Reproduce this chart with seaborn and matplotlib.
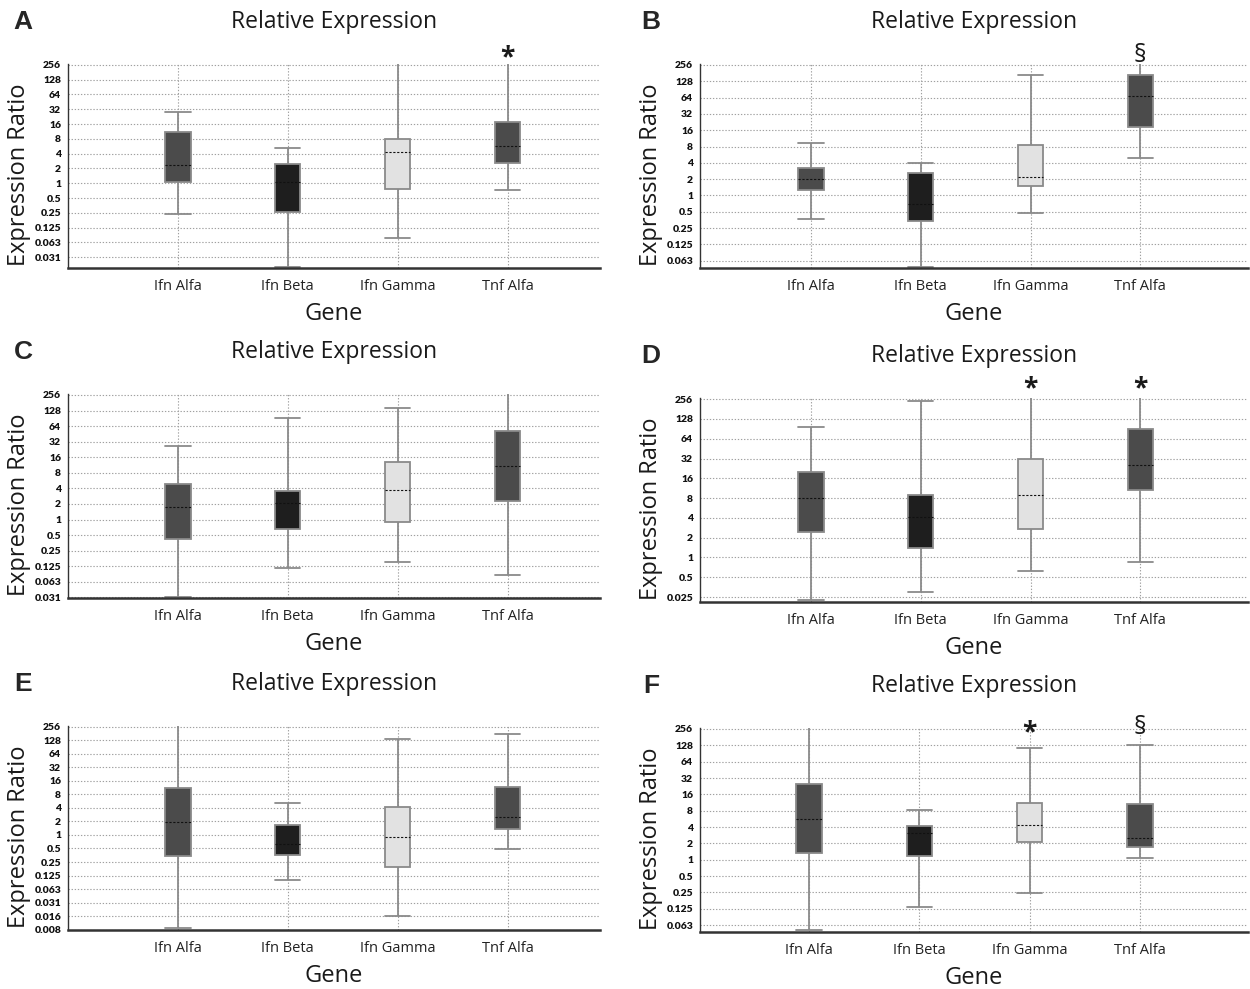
import numpy as np
import pandas as pd
import matplotlib
matplotlib.use("Agg")
import matplotlib.pyplot as plt
from matplotlib.ticker import FixedLocator, NullLocator
import seaborn as sns

# ---------------- data (log2 of expression ratio) ----------------
genes = ["Ifn Alfa", "Ifn Beta", "Ifn Gamma", "Tnf Alfa"]
panels = ["A", "B", "C", "D", "E", "F"]

# per panel: min, q1, median, q3, max for each gene (values > 8 run past the axis top)
A_min = [-2.09, -5.65, -3.71, -0.45]
A_q1 = [0.05, -1.93, -0.40, 1.36]
A_med = [1.24, 0.08, 2.13, 2.52]
A_q3 = [3.46, 1.29, 2.98, 4.12]
A_max = [4.80, 2.38, 9.0, 9.0]

B_min = [-1.44, -4.36, -1.05, 2.32]
B_q1 = [0.31, -1.55, 0.58, 4.22]
B_med = [1.00, -0.55, 1.12, 6.12]
B_q3 = [1.70, 1.35, 3.10, 7.38]
B_max = [3.21, 1.97, 7.36, 9.0]

C_min = [-4.98, -3.09, -2.73, -3.55]
C_q1 = [-1.27, -0.60, -0.17, 1.17]
C_med = [0.78, 1.04, 1.87, 3.41]
C_q3 = [2.26, 1.82, 3.67, 5.70]
C_max = [4.71, 6.50, 7.13, 9.0]

D_min = [-2.17, -1.76, -0.67, -0.24]
D_q1 = [1.27, 0.46, 1.46, 3.39]
D_med = [3.03, 2.06, 3.18, 4.68]
D_q3 = [4.32, 3.18, 4.99, 6.47]
D_max = [6.57, 7.90, 9.0, 9.0]

E_min = [-6.90, -3.34, -5.96, -1.03]
E_q1 = [-1.53, -1.48, -2.37, 0.46]
E_med = [0.96, -0.66, -0.13, 1.33]
E_q3 = [3.50, 0.74, 2.10, 3.55]
E_max = [9.0, 2.33, 7.13, 7.48]

F_min = [-4.31, -2.89, -2.02, 0.13]
F_q1 = [0.40, 0.25, 1.08, 0.79]
F_med = [2.50, 1.64, 2.15, 1.31]
F_q3 = [4.63, 2.09, 3.48, 3.43]
F_max = [9.0, 3.02, 6.84, 7.03]

# y tick labels (exponents 8 down to lowest)
A_ticks = ["256", "128", "64", "32", "16", "8", "4", "2", "1", "0.5", "0.25", "0.125", "0.063", "0.031"]
B_ticks = ["256", "128", "64", "32", "16", "8", "4", "2", "1", "0.5", "0.25", "0.125", "0.063"]
C_ticks = ["256", "128", "64", "32", "16", "8", "4", "2", "1", "0.5", "0.25", "0.125", "0.063", "0.031"]
D_ticks = ["256", "128", "64", "32", "16", "8", "4", "2", "1", "0.5", "0.025"]
E_ticks = ["256", "128", "64", "32", "16", "8", "4", "2", "1", "0.5", "0.25", "0.125", "0.063",
           "0.031", "0.016", "0.008"]
F_ticks = ["256", "128", "64", "32", "16", "8", "4", "2", "1", "0.5", "0.25", "0.125", "0.063"]

# significance marks: (gene, symbol, log2 height)
A_marks = [("Tnf Alfa", "*", 8.45)]
B_marks = [("Tnf Alfa", "§", 8.6)]
C_marks = []
D_marks = [("Ifn Gamma", "*", 8.5), ("Tnf Alfa", "*", 8.5)]
E_marks = []
F_marks = [("Ifn Gamma", "*", 7.75), ("Tnf Alfa", "§", 8.1)]

colors = ["#4b4b4b", "#1e1e1e", "#e2e2e2", "#4b4b4b"]

stats = {
    "A": (A_min, A_q1, A_med, A_q3, A_max, A_ticks, A_marks),
    "B": (B_min, B_q1, B_med, B_q3, B_max, B_ticks, B_marks),
    "C": (C_min, C_q1, C_med, C_q3, C_max, C_ticks, C_marks),
    "D": (D_min, D_q1, D_med, D_q3, D_max, D_ticks, D_marks),
    "E": (E_min, E_q1, E_med, E_q3, E_max, E_ticks, E_marks),
    "F": (F_min, F_q1, F_med, F_q3, F_max, F_ticks, F_marks),
}

# layout in figure pixels: left, right, top, bottom, xlim, ylim bottom (log2)
W, H = 1250, 989
layout = {
    "A": (68, 600, 64, 268, (-1.0, 3.84), -5.73),
    "B": (700, 1248, 64, 268, (-1.01, 3.98), -4.45),
    "C": (68, 600, 394, 598, (-1.0, 3.84), -5.04),
    "D": (700, 1248, 398, 602, (-1.01, 3.98), -2.25),
    "E": (68, 600, 726, 930, (-1.0, 3.84), -7.03),
    "F": (700, 1248, 728, 932, (-0.99, 3.98), -4.42),
}
ytop = 8.06

sns.set_style("white")
plt.rcParams["font.family"] = ["Open Sans", "DejaVu Sans"]

fig = plt.figure(figsize=(W / 100, H / 100), dpi=100)

for p in panels:
    mn, q1, md, q3, mx, ticks, marks = stats[p]
    l, r, t, b, xl, ybot = layout[p]
    ax = fig.add_axes([l / W, 1 - b / H, (r - l) / W, (b - t) / H])

    rows = []
    for i, g in enumerate(genes):
        for v in (mn[i], q1[i], md[i], q3[i], mx[i]):
            rows.append({"gene": g, "ratio": 2.0 ** v})
    df = pd.DataFrame(rows)

    sns.boxplot(data=df, x="gene", y="ratio", hue="gene", order=genes, hue_order=genes,
                palette=colors, dodge=False, legend=False, whis=(0, 100), width=0.23,
                showfliers=False, log_scale=2, linecolor="#8a8a8a", linewidth=1.3,
                medianprops=dict(color="#111111", linestyle=(0, (2, 1.5)), linewidth=0.8),
                capwidths=0.23, ax=ax)

    ax.set_xlim(*xl)
    ax.set_ylim(2.0 ** ybot, 2.0 ** ytop)
    n = len(ticks)
    yt = [2.0 ** (8 - k) for k in range(n)]
    ax.yaxis.set_major_locator(FixedLocator(yt))
    ax.yaxis.set_minor_locator(NullLocator())
    ax.set_yticklabels(ticks, fontsize=7.5, fontweight="heavy",
                       family=["Lato", "DejaVu Sans"], color="#111111")
    ax.set_xticks(range(4))
    ax.set_xticklabels(genes, fontsize=10.5, color="#222222")
    ax.xaxis.set_minor_locator(FixedLocator(np.arange(-1.0, 4.01, 0.25)))
    ax.tick_params(axis="x", which="both", direction="in", length=3, color="#444444", pad=8)
    ax.tick_params(axis="y", which="both", length=0, pad=5)

    ax.grid(True, which="major", axis="both", linestyle=(0, (1.2, 1.6)),
            color="#a0a0a0", linewidth=0.8)
    ax.set_axisbelow(True)

    for s in ("top", "right"):
        ax.spines[s].set_visible(False)
    ax.spines["left"].set_color("#333333")
    ax.spines["left"].set_linewidth(1.0)
    ax.spines["bottom"].set_color("#333333")
    ax.spines["bottom"].set_linewidth(1.8)

    ax.set_xlabel("Gene", fontsize=17, color="#1a1a1a")
    ax.set_ylabel("Expression Ratio", fontsize=17, color="#1a1a1a")
    h = b - t
    w = r - l
    ax.xaxis.set_label_coords(0.5, -(302 - 268) / h)
    ax.yaxis.set_label_coords(-37 / w, 0.5 - 9 / h)
    ax.text(0.5, 1 + 42 / h, "Relative Expression", transform=ax.transAxes,
            ha="center", va="center", fontsize=16.5, color="#1a1a1a")

    for g, sym, yv in marks:
        ax.text(genes.index(g), 2.0 ** yv, sym, ha="center", va="center",
                fontsize=19 if sym == "*" else 18, fontweight="bold" if sym == "*" else "normal",
                color="#1a1a1a", clip_on=False)

    lx = 23 if p in "ACE" else 651
    fig.text(lx / W, 1 - (t - 42) / H, p, fontsize=19, fontweight="bold",
             family=["Liberation Sans", "DejaVu Sans"], ha="center", va="center")

fig.savefig("out.png", dpi=100)
